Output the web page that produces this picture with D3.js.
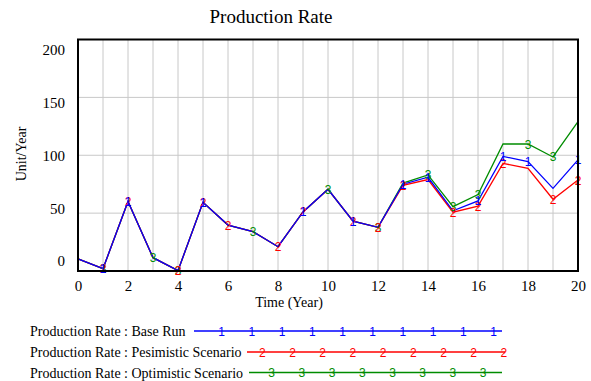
<!DOCTYPE html>
<html>
<head>
<meta charset="utf-8">
<script src="https://cdn.jsdelivr.net/npm/d3@7"></script>
<style>
  html, body { margin: 0; padding: 0; background: #fff; }
  svg { display: block; }
  .serif { font-family: "Liberation Serif", "Times New Roman", "DejaVu Serif", serif !important; }
  .mk { font-family: "Liberation Sans", Arial, sans-serif !important; }
</style>
</head>
<body>
<svg id="chart" width="591" height="381"></svg>
<script>
// ---- data ----
const title = "Production Rate";
const xTitle = "Time (Year)";
const yTitle = "Unit/Year";
const time = d3.range(0, 21);
const baseRun = [10.4, 2, 60, 11.5, 0.3, 59.3, 39.7, 34, 21, 51, 70.6, 43, 37.7, 75, 81, 52, 60.5, 99, 94.5, 71.4, 96];
const pessimistic = [10.4, 2, 60, 11.5, 0.3, 59.3, 39.7, 34, 21, 51, 70.6, 43, 37.7, 74, 79, 50.8, 56, 93, 88.7, 62, 78.6];
const optimistic = [10.4, 2, 60, 11.5, 0.3, 59.3, 39.7, 34, 21, 51, 70.6, 43, 37.7, 76, 83, 55.6, 66, 109.7, 109.7, 98.5, 129];
const seriesNames = ["Production Rate : Base Run", "Production Rate : Pesimistic Scenario", "Production Rate : Optimistic Scenario"];
const seriesMarks = ["1", "2", "3"];
const markerTimes1 = [1, 2, 5, 9, 11, 13, 14, 16, 17, 18, 20];
const markerTimes2 = [1, 2, 4, 5, 6, 8, 9, 11, 12, 13, 15, 16, 17, 19, 20];
const markerTimes3 = [1, 3, 4, 7, 10, 12, 14, 15, 16, 18, 19];
const xTicks = [0, 2, 4, 6, 8, 10, 12, 14, 16, 18, 20];
const yTicks = [0, 50, 100, 150, 200];

// ---- layout ----
const svg = d3.select("#chart");
const L = 78, R = 578, T = 39.5, B = 271;
const x = d3.scaleLinear().domain([0, 20]).range([L, R]);
const y = d3.scaleLinear().domain([0, 200]).range([B, T]);
const yLab = d3.scaleLinear().domain([0, 200]).range([261, 50]);

const colors = ["#0000ff", "#ff0000", "#008c00"];
const series = [
  { name: seriesNames[0], values: baseRun, mark: seriesMarks[0], markers: markerTimes1, color: colors[0] },
  { name: seriesNames[1], values: pessimistic, mark: seriesMarks[1], markers: markerTimes2, color: colors[1] },
  { name: seriesNames[2], values: optimistic, mark: seriesMarks[2], markers: markerTimes3, color: colors[2] }
];

// title
svg.append("text").attr("class", "serif").attr("x", 271).attr("y", 23).attr("text-anchor", "middle")
  .attr("font-size", 19).text(title);

// gridlines
const grid = svg.append("g");
grid.selectAll("line.vx").data(d3.range(1, 20)).join("line")
  .attr("x1", d => x(d)).attr("x2", d => x(d)).attr("y1", T).attr("y2", B)
  .attr("stroke", "#c8c8c8").attr("stroke-width", 1);
grid.selectAll("line.hy").data([50, 100, 150]).join("line")
  .attr("x1", L).attr("x2", R).attr("y1", d => y(d)).attr("y2", d => y(d))
  .attr("stroke", "#c8c8c8").attr("stroke-width", 1);

// lines (draw green, red, then blue on top)
const line = d3.line().x((d, i) => x(time[i])).y(d => y(d));
const order = [2, 1, 0];
order.forEach(k => {
  const s = series[k];
  svg.append("path").datum(s.values).attr("d", line)
    .attr("fill", "none").attr("stroke", s.color).attr("stroke-width", 1.3);
});
order.forEach(k => {
  const s = series[k];
  svg.append("g").selectAll("text").data(s.markers).join("text")
    .attr("class", "mk")
    .attr("x", t => x(t)).attr("y", t => y(s.values[t]) + 4.5)
    .attr("text-anchor", "middle")
    .attr("font-size", 12).attr("fill", s.color).text(s.mark);
});

// frame
svg.append("rect").attr("x", L).attr("y", T).attr("width", R - L).attr("height", B - T)
  .attr("fill", "none").attr("stroke", "#000").attr("stroke-width", 2);

// x axis labels
const xAxis = d3.axisBottom(x).tickValues(xTicks).tickSize(0).tickPadding(9).tickFormat(d3.format("d"));
const gx = svg.append("g").attr("transform", `translate(0,${B})`).call(xAxis);
gx.attr("font-family", null).attr("font-size", null);
gx.select(".domain").remove();
gx.selectAll("text").attr("class", "serif").attr("font-size", 15).attr("fill", "#000");

// y axis labels
const yAxis = d3.axisLeft(yLab).tickValues(yTicks).tickSize(0).tickPadding(0).tickFormat(d3.format("d"));
const gy = svg.append("g").attr("transform", `translate(65,0)`).call(yAxis);
gy.attr("font-family", null).attr("font-size", null);
gy.select(".domain").remove();
gy.selectAll("text").attr("class", "serif").attr("font-size", 15).attr("fill", "#000");

// axis titles
svg.append("text").attr("class", "serif").attr("x", 289).attr("y", 307).attr("text-anchor", "middle")
  .attr("font-size", 14).text(xTitle);
svg.append("text").attr("class", "serif").attr("transform", "translate(26,154) rotate(-90)").attr("text-anchor", "middle")
  .attr("font-size", 14).text(yTitle);

// legend
const legendRows = [
  { y: 331, x1: 194, x2: 502, first: 221.7, n: 10 },
  { y: 352, x1: 247, x2: 505, first: 262.3, n: 9 },
  { y: 372.5, x1: 249, x2: 502, first: 271.7, n: 8 }
];
series.forEach((s, i) => {
  const r = legendRows[i];
  svg.append("text").attr("class", "serif").attr("x", 30).attr("y", r.y + 5).attr("font-size", 14).text(s.name);
  svg.append("line").attr("x1", r.x1).attr("x2", r.x2).attr("y1", r.y).attr("y2", r.y)
    .attr("stroke", s.color).attr("stroke-width", 1.3);
  svg.append("g").selectAll("text").data(d3.range(r.n)).join("text")
    .attr("class", "mk")
    .attr("x", j => r.first + j * 30.2).attr("y", r.y + 4.5).attr("text-anchor", "middle")
    .attr("font-size", 12).attr("fill", s.color).text(s.mark);
});
</script>
</body>
</html>
